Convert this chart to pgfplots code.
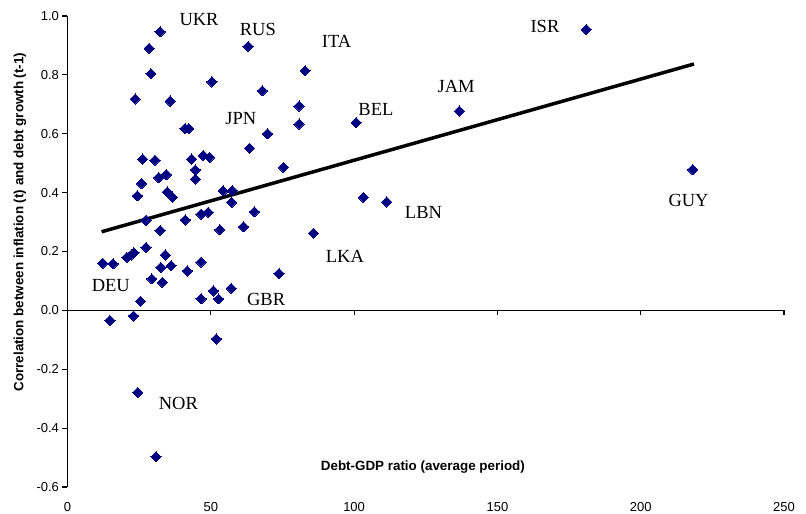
\documentclass[border=0pt]{standalone}
\usepackage{pgfplots}
\pgfplotsset{compat=1.18}
\usepackage{fontspec}
\setmainfont{Liberation Serif}
\newfontfamily\arial{Liberation Sans}
\definecolor{navy}{HTML}{000080}
\begin{document}
\begin{tikzpicture}
\begin{axis}[
  scale only axis, width=716.5pt, height=471pt,
  xmin=0, xmax=250, ymin=-0.6, ymax=1.0,
  axis x line=middle, axis y line=left,
  axis line style={-, line width=1.1pt},
  hide obscured x ticks=false, hide obscured y ticks=false,
  xtick={0,50,...,250}, ytick={-0.6,-0.4,...,1.01},
  tick style={line width=1.1pt, black},
  major tick length=5pt,
  xtick align=outside, ytick align=outside,
  tick label style={font=\arial\fontsize{13}{15}\selectfont},
  xticklabel style={yshift=-187pt, inner sep=0pt},
  /pgf/number format/assume math mode=true,
  yticklabel style={/pgf/number format/.cd, fixed, fixed zerofill, precision=1},
  clip=false,
]
\addplot[only marks, mark=square*, mark size=3.6pt, mark options={rotate=45, fill=navy, draw=navy, line width=0pt}, color=navy] coordinates {
(32.3,0.946) (28.5,0.890) (29.1,0.804) (23.6,0.718) (35.8,0.711)
(50.4,0.776) (63.0,0.897) (68.0,0.746) (80.8,0.694) (80.8,0.633)
(82.9,0.814) (69.8,0.600) (41.0,0.618) (42.3,0.618) (63.5,0.551)
(26.2,0.514) (30.5,0.510) (43.3,0.514) (47.4,0.526) (49.6,0.520)
(44.6,0.477) (44.6,0.446) (31.8,0.451) (34.5,0.461) (75.3,0.486)
(25.8,0.431) (24.4,0.389) (34.8,0.402) (36.6,0.385) (54.3,0.406)
(57.5,0.407) (57.3,0.367) (65.2,0.335) (46.6,0.327) (49.1,0.333)
(41.1,0.307) (27.4,0.306) (32.3,0.272) (53.1,0.274) (61.4,0.284)
(27.4,0.214) (34.1,0.188) (12.3,0.160) (15.9,0.158) (20.7,0.180)
(22.2,0.188) (23.2,0.196) (29.4,0.107) (32.6,0.146) (33.1,0.095)
(36.2,0.152) (41.8,0.134) (46.6,0.164) (50.9,0.066) (46.6,0.039)
(52.7,0.039) (57.1,0.075) (73.8,0.125) (25.5,0.031) (14.8,-0.034)
(23.0,-0.019) (51.9,-0.097) (24.5,-0.279) (30.9,-0.497) (85.8,0.262)
(100.7,0.638) (136.7,0.677) (103.2,0.384) (111.4,0.368) (181.0,0.954)
(218.1,0.478)
};
\addplot[black, line width=3.5pt, no markers] coordinates {(11.9,0.267) (218.6,0.837)};
\begin{scope}[every node/.style={font=\fontsize{18.5}{20}\selectfont}]
\node at (axis cs:45.9,0.989) {UKR};
\node at (axis cs:66.4,0.955) {RUS};
\node at (axis cs:93.9,0.913) {ITA};
\node at (axis cs:166.6,0.966) {ISR};
\node at (axis cs:135.6,0.762) {JAM};
\node at (axis cs:107.6,0.681) {BEL};
\node at (axis cs:60.5,0.650) {JPN};
\node at (axis cs:124.2,0.332) {LBN};
\node at (axis cs:96.8,0.185) {LKA};
\node at (axis cs:216.7,0.375) {GUY};
\node at (axis cs:15.1,0.083) {DEU};
\node at (axis cs:69.3,0.038) {GBR};
\node at (axis cs:38.7,-0.316) {NOR};
\end{scope}
\node[font=\arial\bfseries\fontsize{13.4}{15}\selectfont] at (axis cs:124,-0.532) {Debt-GDP ratio (average period)};
\node[font=\arial\bfseries\fontsize{13.4}{15}\selectfont, rotate=90] at (axis cs:-16.6,0.30) {Correlation between inflation (t) and debt growth (t-1)};
\end{axis}
\pgfresetboundingbox
\path (-67.5pt,-27pt) rectangle (738.5pt,487pt);
\end{tikzpicture}
\end{document}
